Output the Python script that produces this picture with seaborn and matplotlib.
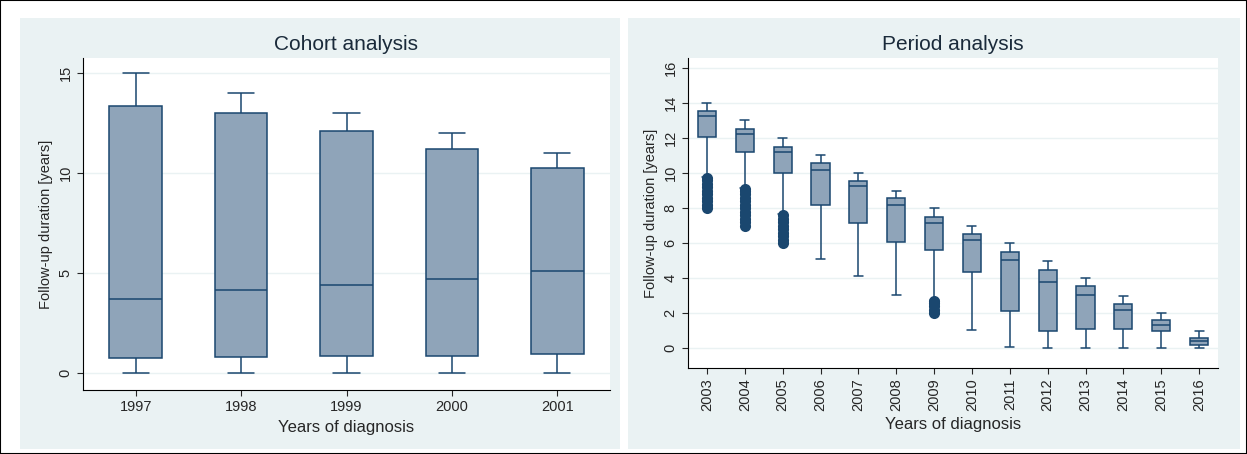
import pandas as pd
import matplotlib.pyplot as plt
import seaborn as sns
from matplotlib.patches import Rectangle

# cohort panel: whisker low, q1, median, q3, whisker high
cohort_years = ['1997', '1998', '1999', '2000', '2001']
cohort_stats = [
    [0, 0.75, 3.7, 13.35, 15],
    [0, 0.8, 4.15, 13.0, 14],
    [0, 0.85, 4.4, 12.1, 13],
    [0, 0.85, 4.7, 11.2, 12],
    [0, 0.95, 5.1, 10.25, 11],
]

period_years = ['2003', '2004', '2005', '2006', '2007', '2008', '2009',
                '2010', '2011', '2012', '2013', '2014', '2015', '2016']
period_stats = [
    [9.75, 12.05, 13.25, 13.55, 14],
    [9.15, 11.2, 12.25, 12.5, 13],
    [7.65, 10.0, 11.2, 11.5, 12],
    [5.1, 8.2, 10.2, 10.55, 11],
    [4.1, 7.15, 9.25, 9.55, 10],
    [3.05, 6.05, 8.15, 8.55, 9],
    [2.75, 5.6, 7.15, 7.5, 8],
    [1.05, 4.35, 6.15, 6.5, 7],
    [0.05, 2.1, 5.05, 5.5, 6],
    [0, 0.95, 3.8, 4.45, 5],
    [0, 1.1, 3.05, 3.55, 4],
    [0, 1.1, 2.15, 2.5, 3],
    [0, 0.95, 1.3, 1.6, 2],
    [0, 0.15, 0.4, 0.6, 1],
]
# outliers (many tied follow-up values, they merge into a solid band)
outlier_years = ['2003'] * 10 + ['2004'] * 12 + ['2005'] * 9 + ['2009'] * 5
outlier_vals = [8.0, 8.2, 8.4, 8.6, 8.8, 9.0, 9.2, 9.4, 9.6, 9.7,
                7.0, 7.2, 7.4, 7.6, 7.8, 8.0, 8.2, 8.4, 8.6, 8.8, 9.0, 9.1,
                6.0, 6.2, 6.4, 6.6, 6.8, 7.0, 7.2, 7.4, 7.6,
                2.0, 2.2, 2.4, 2.6, 2.7]

BOX = '#8fa4b9'
EDGE = '#1a476f'
PANEL = '#eaf2f3'


def long_form(years, stats):
    rows = []
    for y, s in zip(years, stats):
        for v in s:
            rows.append({'year': y, 'val': v})
    return pd.DataFrame(rows)


def draw_box(ax, years, stats, width):
    df = long_form(years, stats)
    sns.boxplot(data=df, x='year', y='val', ax=ax, whis=(0, 100), width=width,
                color=BOX, linecolor=EDGE, linewidth=1.1, saturation=1,
                showcaps=True, flierprops={'marker': ''})


sns.set_style('white')
plt.rcParams['font.family'] = ['Liberation Sans', 'DejaVu Sans']
fig = plt.figure(figsize=(12.47, 4.54), dpi=100)
W, H = 1247, 454
fig.patches.append(Rectangle((0, 0), 1, 1, transform=fig.transFigure,
                             fill=False, edgecolor='black', lw=1.5, zorder=-2))
for x0, x1 in [(20, 620), (628, 1240)]:
    fig.patches.append(Rectangle((x0 / W, 1 - 449 / H), (x1 - x0) / W, (449 - 18) / H,
                                 transform=fig.transFigure, facecolor=PANEL,
                                 edgecolor='none', zorder=-1))

ax1 = fig.add_axes([83 / W, 1 - 390 / H, (610 - 83) / W, (390 - 58) / H])
draw_box(ax1, cohort_years, cohort_stats, 0.5)
ax1.set_ylim(-0.85, 15.75)
ax1.set_yticks([0, 5, 10, 15])
ax1.set_title('Cohort analysis', fontsize=15, color='#1a2a3a', pad=6)
ax1.set_xlabel('Years of diagnosis', fontsize=12)
ax1.set_ylabel('Follow-up duration [years]', fontsize=10.5)

ax2 = fig.add_axes([688 / W, 1 - 368 / H, (1218 - 688) / W, (368 - 58) / H])
draw_box(ax2, period_years, period_stats, 0.48)
sns.stripplot(x=outlier_years, y=outlier_vals, ax=ax2, order=period_years,
              jitter=False, color=EDGE, size=8, zorder=4)
ax2.set_ylim(-1.14, 16.57)
ax2.set_yticks(range(0, 17, 2))
ax2.set_title('Period analysis', fontsize=15, color='#1a2a3a', pad=6)
ax2.set_xlabel('Years of diagnosis', fontsize=12)
ax2.set_ylabel('Follow-up duration [years]', fontsize=10.5)
ax2.tick_params(axis='x', rotation=90)

for ax in (ax1, ax2):
    ax.set_facecolor('white')
    ax.set_zorder(1)
    ax.grid(axis='y', color='#eaf2f3', lw=1)
    ax.set_axisbelow(True)
    for s in ['top', 'right']:
        ax.spines[s].set_visible(False)
    for s in ['left', 'bottom']:
        ax.spines[s].set_color('black')
    ax.tick_params(axis='both', labelsize=10.5, length=4, left=True, bottom=True)
    for lab in ax.get_yticklabels():
        lab.set_rotation(90)
        lab.set_va('center')

fig.savefig('out.png', dpi=100)
